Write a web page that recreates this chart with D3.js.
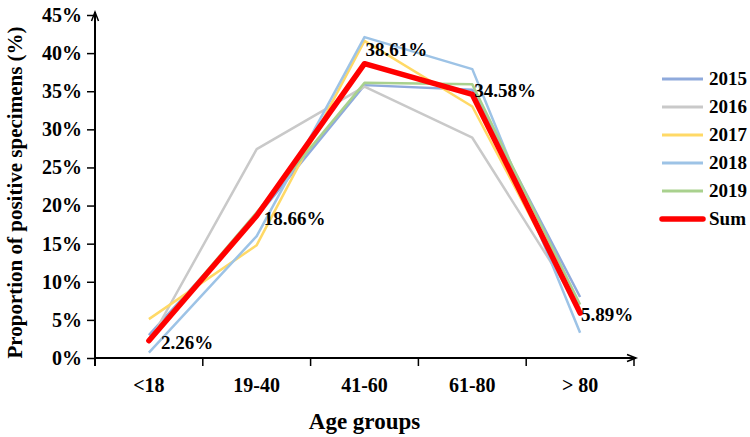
<!DOCTYPE html>
<html>
<head>
<meta charset="utf-8">
<script src="https://cdn.jsdelivr.net/npm/d3@7/dist/d3.min.js"></script>
<style>
  html, body { margin: 0; padding: 0; background: #fff; }
  svg { display: block; }
  text { font-family: "Liberation Serif", "Times New Roman", serif; font-weight: bold; fill: #000; }
</style>
</head>
<body>
<svg id="chart" width="750" height="437"></svg>
<script>
const categories = ['<18', '19-40', '41-60', '61-80', '> 80'];
const yTicks = [0, 5, 10, 15, 20, 25, 30, 35, 40, 45];
const seriesNames = ['2015', '2016', '2017', '2018', '2019', 'Sum'];
const v2015 = [3.0, 18.5, 35.8, 35.2, 8.0];
const v2016 = [2.0, 27.4, 35.6, 28.9, 6.5];
const v2017 = [5.1, 14.8, 41.6, 33.0, 6.2];
const v2018 = [0.7, 16.0, 42.1, 37.9, 3.3];
const v2019 = [2.5, 19.1, 36.1, 35.9, 7.0];
const vSum = [2.26, 18.66, 38.61, 34.58, 5.89];
const sumLabels = ['2.26%', '18.66%', '38.61%', '34.58%', '5.89%'];

const colors = ['#8FAADC', '#C9C9C9', '#FFD966', '#9DC3E6', '#A9D18E', '#FF0000'];
const widths = [2.5, 2.5, 2.5, 2.5, 2.5, 5.5];
const allValues = [v2015, v2016, v2017, v2018, v2019, vSum];

const svg = d3.select('#chart');
const x0 = 95, x1 = 634, yBottom = 358, yTop = 15;

const x = d3.scaleBand().domain(categories).range([x0, x1]).padding(0);
const y = d3.scaleLinear().domain([0, 45]).range([yBottom, yTop]);
const cx = c => x(c) + x.bandwidth() / 2;

// Y axis
const yAxis = d3.axisLeft(y).tickValues(yTicks).tickSize(8).tickPadding(5).tickFormat(d => d + '%');
const gy = svg.append('g').attr('transform', `translate(${x0},0)`).call(yAxis);
gy.select('.domain').remove();
gy.selectAll('.tick line').attr('stroke', '#000').attr('stroke-width', 1.5);
gy.selectAll('.tick text').style('font-size', '20px').style('font-family', '"Liberation Serif", serif').style('font-weight', 'bold');

// Y axis line with arrow
svg.append('line').attr('x1', x0).attr('x2', x0).attr('y1', yBottom + 8).attr('y2', yTop - 3)
  .attr('stroke', '#000').attr('stroke-width', 2);
svg.append('path').attr('d', `M${x0 - 3.5},${yTop + 6} L${x0},${yTop - 3} L${x0 + 3.5},${yTop + 6}`)
  .attr('fill', 'none').attr('stroke', '#000').attr('stroke-width', 1.5);

// X axis line with arrow
svg.append('line').attr('x1', x0).attr('x2', x1 + 2).attr('y1', yBottom).attr('y2', yBottom)
  .attr('stroke', '#000').attr('stroke-width', 2);
svg.append('path').attr('d', `M${x1 - 7},${yBottom - 3.5} L${x1 + 2},${yBottom} L${x1 - 7},${yBottom + 3.5}`)
  .attr('fill', 'none').attr('stroke', '#000').attr('stroke-width', 1.5);

// X ticks at band edges
const edges = categories.map(c => x(c)).concat([x1]);
svg.selectAll('.xtick').data(edges).enter().append('line')
  .attr('x1', d => d).attr('x2', d => d).attr('y1', yBottom).attr('y2', yBottom + 8)
  .attr('stroke', '#000').attr('stroke-width', 1.5);

// X labels
svg.selectAll('.xlab').data(categories).enter().append('text')
  .attr('x', d => cx(d)).attr('y', yBottom + 34)
  .attr('text-anchor', 'middle').style('font-size', '20px').text(d => d);

// Axis titles
svg.append('text').attr('x', (x0 + x1) / 2).attr('y', 429).attr('text-anchor', 'middle')
  .style('font-size', '23px').text('Age groups');
svg.append('text').attr('transform', `translate(22,${(yBottom + yTop) / 2 + 6}) rotate(-90)`)
  .attr('text-anchor', 'middle').style('font-size', '21px').text('Proportion of positive specimens (%)');

// Lines
const line = d3.line().x((d, i) => cx(categories[i])).y(d => y(d));
allValues.forEach((vals, i) => {
  svg.append('path').datum(vals).attr('d', line)
    .attr('fill', 'none').attr('stroke', colors[i]).attr('stroke-width', widths[i])
    .attr('stroke-linejoin', 'round').attr('stroke-linecap', i === 5 ? 'round' : 'butt');
});

// Sum labels
const labOff = [[12, 8], [7, 9], [1, -8], [2, 3], [1, 8]];
svg.selectAll('.slab').data(vSum).enter().append('text')
  .attr('x', (d, i) => cx(categories[i]) + labOff[i][0])
  .attr('y', (d, i) => y(d) + labOff[i][1])
  .style('font-size', '19px').text((d, i) => sumLabels[i]);

// Legend
const lg = svg.append('g');
seriesNames.forEach((n, i) => {
  const ly = 79 + i * 28;
  lg.append('line').attr('x1', 662).attr('x2', 703).attr('y1', ly).attr('y2', ly)
    .attr('stroke', colors[i]).attr('stroke-width', i === 5 ? 5.5 : 3)
    .attr('stroke-linecap', i === 5 ? 'round' : 'butt');
  lg.append('text').attr('x', 709).attr('y', ly + 6).style('font-size', '19px').text(n);
});
</script>
</body>
</html>
